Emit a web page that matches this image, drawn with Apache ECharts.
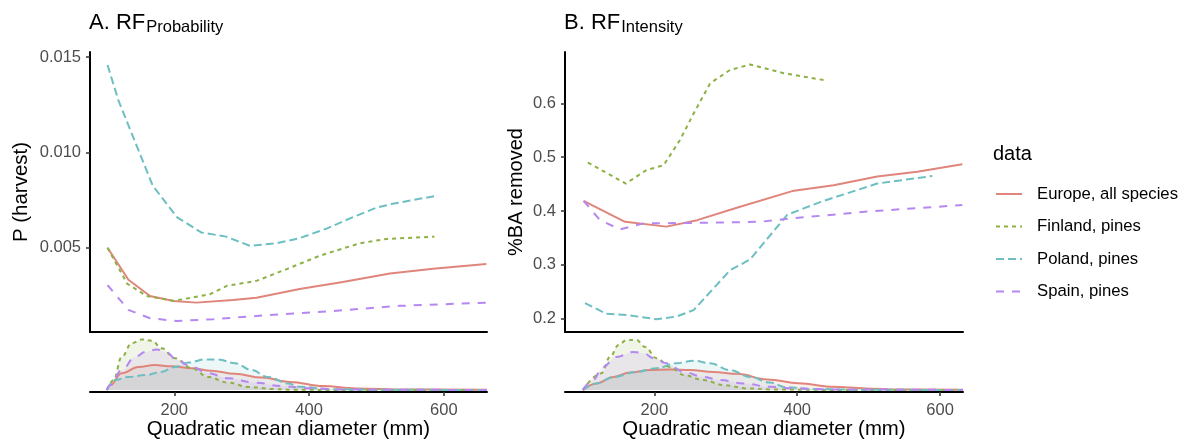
<!DOCTYPE html>
<html><head><meta charset="utf-8">
<script src="https://cdn.jsdelivr.net/npm/echarts@6/dist/echarts.min.js"></script>
<style>html,body{margin:0;padding:0;background:#fff}#c{width:1187px;height:445px}</style>
</head><body><div id="c"></div>
<script>
// ---------- data ----------
const seriesNames = ['Europe, all species', 'Finland, pines', 'Poland, pines', 'Spain, pines'];
const xTicks = [200, 400, 600];
const probTicks = [0.005, 0.010, 0.015];
const intTicks = [0.2, 0.3, 0.4, 0.5, 0.6];

// Panel A: P(harvest) vs QMD
const probEurope = [[101,0.0050],[132,0.00332],[164,0.00247],[199,0.00221],[233,0.00212],[287,0.00226],[322,0.00238],[386,0.00283],[450,0.0032],[520,0.00365],[584,0.0039],[663,0.00414]];
const probFinland = [[101,0.0050],[130,0.00312],[159,0.00247],[199,0.00221],[253,0.00256],[278,0.0030],[322,0.00326],[367,0.00388],[416,0.00458],[475,0.00523],[515,0.00546],[586,0.00558]];
const probPoland = [[101,0.01458],[117,0.01274],[139,0.0108],[168,0.00826],[204,0.0066],[240,0.0058],[277,0.00558],[312,0.0051],[352,0.00523],[386,0.0055],[426,0.0060],[465,0.0066],[500,0.0071],[524,0.0073],[554,0.0075],[586,0.0077]];
const probSpain = [[101,0.00304],[132,0.00174],[164,0.0013],[204,0.00116],[258,0.00125],[322,0.00142],[436,0.00168],[534,0.00195],[663,0.00212]];

// Panel B: %BA removed vs QMD
const intEurope = [[101,0.419],[159,0.380],[217,0.371],[260,0.383],[320,0.408],[393,0.437],[451,0.448],[512,0.464],[568,0.473],[631,0.487]];
const intFinland = [[107,0.490],[160,0.451],[189,0.476],[213,0.485],[236,0.532],[255,0.581],[278,0.637],[306,0.662],[334,0.672],[381,0.656],[442,0.642]];
const intPoland = [[103,0.229],[133,0.209],[161,0.207],[203,0.199],[231,0.204],[255,0.216],[306,0.290],[334,0.310],[386,0.393],[433,0.417],[512,0.451],[589,0.465]];
const intSpain = [[101,0.419],[124,0.383],[152,0.366],[185,0.377],[264,0.378],[348,0.380],[390,0.386],[498,0.399],[631,0.411]];

// QMD densities (x1e-3 per mm), panel A data sets
const densAEurope = [[100,0],[105,0.8],[122,2.7],[147,3.7],[171,4.0],[196,3.8],[226,3.5],[255,3.1],[290,2.6],[330,2.0],[372,1.3],[421,0.64],[470,0.27],[544,0.11],[664,0.05]];
const densAFinland = [[100,0],[110,1.6],[122,5.3],[137,7.5],[152,8.1],[167,7.9],[181,6.7],[201,5.1],[226,3.5],[250,2.1],[280,1.2],[310,0.5],[349,0.16],[378,0.05],[450,0.02],[664,0.0]];
const densAPoland = [[100,0],[112,1.6],[132,2.1],[157,2.4],[181,2.9],[201,3.7],[221,4.4],[246,4.9],[265,4.9],[290,4.3],[315,3.2],[339,2.1],[369,1.07],[386,0.53],[431,0.16],[497,0.05],[664,0.02]];
const densASpain = [[100,0],[105,0.8],[122,3.2],[142,5.3],[157,6.1],[174,6.5],[189,6.0],[204,4.8],[226,3.7],[250,2.7],[280,1.9],[320,1.2],[359,0.64],[401,0.3],[446,0.11],[520,0.05],[664,0.02]];
// panel B data sets
const densBEurope = [[100,0],[119,1.07],[143,2.1],[166,2.8],[194,3.2],[222,3.3],[250,3.2],[283,2.9],[316,2.6],[358,1.7],[402,1.1],[449,0.53],[496,0.27],[543,0.11],[632,0.05]];
const densBFinland = [[100,0],[126,2.7],[138,5.3],[150,7.2],[161,8.0],[175,8.0],[187,6.9],[203,5.1],[222,3.7],[241,2.4],[269,1.6],[297,0.8],[330,0.27],[363,0.11],[450,0.03],[632,0.0]];
const densBPoland = [[100,0],[119,1.07],[143,2.1],[175,2.9],[203,3.5],[231,4.3],[255,4.7],[278,4.3],[306,3.2],[334,2.1],[362,1.2],[384,0.45],[425,0.16],[495,0.05],[632,0.02]];
const densBSpain = [[100,0],[114,1.6],[128,3.7],[147,5.3],[171,6.1],[185,5.9],[199,5.1],[217,4.3],[241,2.9],[269,2.1],[292,1.6],[325,1.07],[362,0.53],[400,0.25],[450,0.1],[632,0.02]];

// ---------- styles ----------
const colors = ['#E0857B', '#8DB145', '#6DBFC2', '#B587F0'];
const dashes = ['solid', [4, 4], [8, 4], [8, 8]];
const FONT = '"Liberation Sans", Arial, Helvetica, sans-serif';

const probData = [probEurope, probFinland, probPoland, probSpain];
const intData = [intEurope, intFinland, intPoland, intSpain];
const densA = [densAEurope, densAFinland, densAPoland, densASpain];
const densB = [densBEurope, densBFinland, densBPoland, densBSpain];

function lineSeries(i, data, axisIdx, isDens) {
  const s = {
    name: seriesNames[i], type: 'line', data: data,
    xAxisIndex: axisIdx, yAxisIndex: axisIdx,
    symbol: 'none', showSymbol: false, silent: true,
    lineStyle: { color: colors[i], width: 2, type: dashes[i], cap: 'butt' },
    itemStyle: { color: colors[i] },
    animation: false, clip: true
  };
  if (isDens) {
    s.smooth = 0.4;
    s.smoothMonotone = 'x';
    s.areaStyle = { color: colors[i], opacity: 0.13 };
  }
  return s;
}

const series = [];
for (let i = 0; i < 4; i++) series.push(lineSeries(i, probData[i], 0, false));
for (let i = 0; i < 4; i++) series.push(lineSeries(i, densA[i], 1, true));
for (let i = 0; i < 4; i++) series.push(lineSeries(i, intData[i], 2, false));
for (let i = 0; i < 4; i++) series.push(lineSeries(i, densB[i], 3, true));

const grids = [
  { left: 90, top: 52, width: 397, height: 280 },
  { left: 90, top: 335, width: 397, height: 57 },
  { left: 565, top: 52, width: 398, height: 280 },
  { left: 565, top: 335, width: 398, height: 57 }
];

const axisLineStyle = { color: '#000', width: 2 };
function mainX(gi, max) {
  return { type: 'value', gridIndex: gi, min: 75, max: max,
    axisLine: { show: true, onZero: false, lineStyle: axisLineStyle },
    axisTick: { show: false }, axisLabel: { show: false }, splitLine: { show: false } };
}
function densX(gi, max) {
  return { type: 'value', gridIndex: gi, min: 75, max: max,
    axisLine: { show: true, onZero: false, lineStyle: axisLineStyle },
    axisTick: { show: true, length: 4, lineStyle: { color: '#333', width: 1.5 }, customValues: xTicks },
    axisLabel: { show: true, customValues: xTicks, color: '#4D4D4D', fontSize: 16.5, fontFamily: FONT, margin: 10 },
    splitLine: { show: false } };
}
function mainY(gi, min, max, ticks, dec) {
  return { type: 'value', gridIndex: gi, min: min, max: max,
    axisLine: { show: true, lineStyle: axisLineStyle },
    axisTick: { show: true, length: 4, lineStyle: { color: '#333', width: 1.5 }, customValues: ticks },
    axisLabel: { show: true, customValues: ticks, color: '#4D4D4D', fontSize: 16.5, fontFamily: FONT, margin: 9,
      formatter: v => v.toFixed(dec) },
    splitLine: { show: false } };
}
function densY(gi) {
  return { type: 'value', gridIndex: gi, min: -0.3, max: 8.8, show: false,
    axisLine: { show: false }, axisTick: { show: false }, axisLabel: { show: false }, splitLine: { show: false } };
}

function measure(text, font) {
  const c = document.createElement('canvas').getContext('2d');
  c.font = font; return c.measureText(text).width;
}
function titleEls(x, main, sub) {
  const w = measure(main, '22px ' + FONT);
  return [
    { type: 'text', x: x, y: 22.5, style: { text: main, fontSize: 22, fontFamily: FONT, fill: '#000', align: 'left', verticalAlign: 'middle' } },
    { type: 'text', x: x + w + 1, y: 27, style: { text: sub, fontSize: 16.5, fontFamily: FONT, fill: '#000', align: 'left', verticalAlign: 'middle' } }
  ];
}

const graphic = [].concat(
  titleEls(89, 'A. RF', 'Probability'),
  titleEls(564, 'B. RF', 'Intensity'),
  [
    { type: 'text', x: 21.5, y: 192, rotation: Math.PI / 2, style: { text: 'P (harvest)', fontSize: 20.5, fontFamily: FONT, fill: '#000', align: 'center', verticalAlign: 'middle' } },
    { type: 'text', x: 516, y: 192, rotation: Math.PI / 2, style: { text: '%BA removed', fontSize: 20, fontFamily: FONT, fill: '#000', align: 'center', verticalAlign: 'middle' } },
    { type: 'text', x: 288.5, y: 429, style: { text: 'Quadratic mean diameter (mm)', fontSize: 20.4, fontFamily: FONT, fill: '#000', align: 'center', verticalAlign: 'middle' } },
    { type: 'text', x: 764, y: 429, style: { text: 'Quadratic mean diameter (mm)', fontSize: 20.4, fontFamily: FONT, fill: '#000', align: 'center', verticalAlign: 'middle' } },
    { type: 'text', x: 993, y: 154, style: { text: 'data', fontSize: 20, fontFamily: FONT, fill: '#000', align: 'left', verticalAlign: 'middle' } }
  ]
);

const chart = echarts.init(document.getElementById('c'), null, { renderer: 'canvas' });
chart.setOption({
  animation: false,
  backgroundColor: '#fff',
  grid: grids,
  xAxis: [mainX(0, 664), densX(1, 664), mainX(2, 632), densX(3, 632)],
  yAxis: [mainY(0, 0.00058, 0.01526, probTicks, 3), densY(1), mainY(2, 0.1753, 0.6953, intTicks, 1), densY(3)],
  legend: {
    data: seriesNames, orient: 'vertical', left: 990, top: 179,
    itemWidth: 26, itemHeight: 20, itemGap: 12.5, selectedMode: false,
    itemStyle: { opacity: 0, borderWidth: 0 },
    textStyle: { fontSize: 16.7, fontFamily: FONT, color: '#000', padding: [0, 0, 0, 10], lineHeight: 20 }
  },
  graphic: graphic,
  series: series
});
</script></body></html>
